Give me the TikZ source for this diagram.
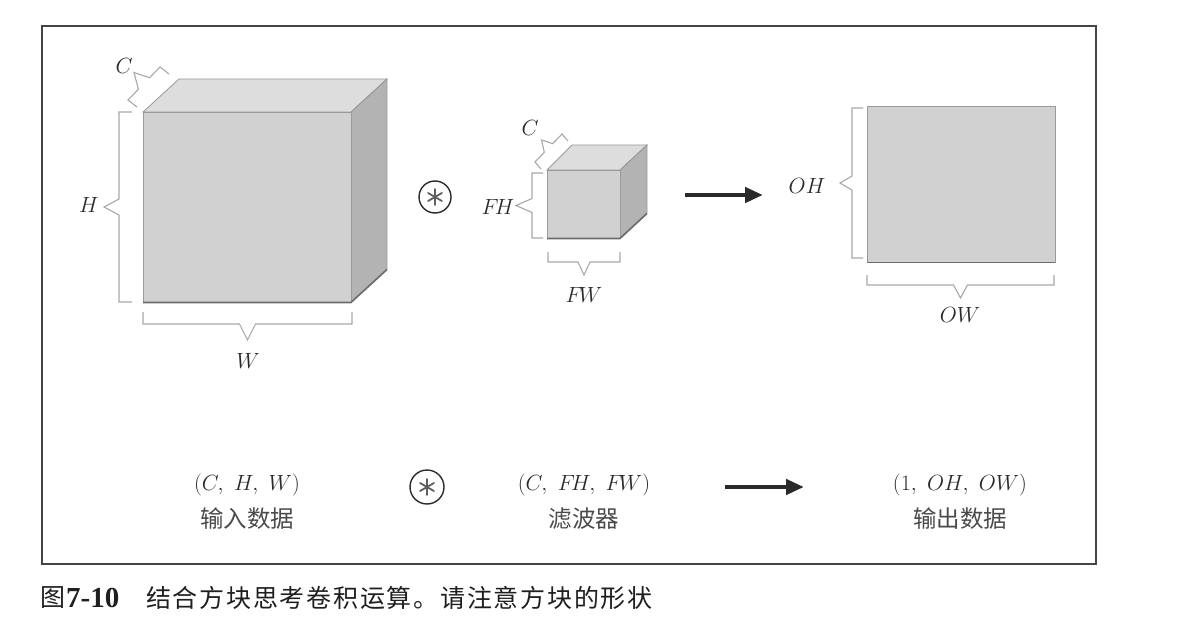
\RequirePackage{fix-cm}
\documentclass[tikz,border=0pt]{standalone}
\usepackage{fontspec}
\newfontfamily\cjk{Noto Sans CJK SC}
\newfontfamily\cjkcap[LetterSpace=7]{Noto Sans CJK SC}
\newfontfamily\capser{Liberation Serif}
\usetikzlibrary{calc,arrows.meta}
\definecolor{frontc}{HTML}{D1D1D1}
\definecolor{topc}{HTML}{DDDDDD}
\definecolor{sidec}{HTML}{B3B3B3}
\definecolor{edgec}{HTML}{9A9A9A}
\definecolor{brkc}{HTML}{A8A8A8}
\definecolor{txtc}{HTML}{2A2A2A}
\definecolor{framec}{HTML}{444444}
\newcommand\brk[5]{%
  \coordinate (bA) at #1; \coordinate (bB) at #2;
  \coordinate (bM) at ($(bA)!0.5!(bB)$);
  \draw[brkline] ($(bA)+#3$) -- (bA) -- ($(bM)!#5pt!(bA)$) -- ($(bM)+#4$) -- ($(bM)!#5pt!(bB)$) -- (bB) -- ($(bB)+#3$);
}
\begin{document}
\begin{tikzpicture}[x=1pt,y=-1pt,
  brkline/.style={draw=brkc,line width=1.1pt,line join=miter},
  face/.style={draw=edgec,line width=0.8pt},
  lbl/.style={text=txtc,inner sep=0pt,font=\fontsize{22}{26}\selectfont},
  cjklbl/.style={text=txtc!85,inner sep=0pt,font=\cjk\fontsize{23.5}{26}\selectfont},
  oplus/.style={circle,draw=txtc,line width=1.4pt,minimum size=32pt,inner sep=0pt},
  bigarrow/.style={draw=txtc,line width=4.5pt,-{Triangle[length=18pt,width=15pt]}},
  captxt/.style={anchor=west,inner sep=0pt,text=black!88}]
\useasboundingbox (0,0) rectangle (1200,623);
\draw[framec,line width=1.2pt] (42,26) rectangle (1096,564);

% big cube
\fill[topc] (143,112) -- (179,79) -- (387,79) -- (351,112) -- cycle;
\fill[sidec] (351,112) -- (387,79) -- (387,269) -- (351,302) -- cycle;
\fill[frontc] (143,112) rectangle (351,302);
\draw[face] (143,112) -- (179,79) -- (387,79) -- (351,112) -- cycle;
\draw[face] (351,112) -- (387,79) -- (387,269) -- (351,302);
\draw[face] (143,112) rectangle (351,302);
\draw[edgec!70!black,line width=1.6pt] (143,302.5) -- (351,302.5) -- (387,269.5);
\brk{(119,112)}{(119,302)}{(13,0)}{(-15,0)}{8}
\brk{(143,324)}{(352,324)}{(0,-12)}{(0,16)}{8}
\brk{(128,100)}{(160,67)}{(9,7)}{(-10,-11)}{8}
\node[lbl] (lH) at (89,205) {$H$};
\node[lbl] (lW) at (248,361) {$W$};
\node[lbl] (lC) at (124,66) {$C$};

% operator
\node[oplus] (op1) at (435,197) {};
\foreach \a in {90,30,150}
  \draw[txtc!75,line width=1.8pt,line cap=round] ($(op1)+(\a:8)$) -- ($(op1)+(\a+180:8)$);

% small cube
\fill[topc] (547,170) -- (572,145) -- (647,145) -- (620,170) -- cycle;
\fill[sidec] (620,170) -- (647,145) -- (647,213) -- (620,238) -- cycle;
\fill[frontc] (547,170) rectangle (620,238);
\draw[face] (547,170) -- (572,145) -- (647,145) -- (620,170) -- cycle;
\draw[face] (620,170) -- (647,145) -- (647,213) -- (620,238);
\draw[face] (547,170) rectangle (620,238);
\draw[edgec!70!black,line width=1.6pt] (547,238.5) -- (620,238.5) -- (647,213.5);
\brk{(532,173)}{(532,238)}{(11,0)}{(-16,0)}{7}
\brk{(548,262)}{(620,262)}{(0,-10)}{(0,13)}{6}
\brk{(535,162)}{(562,134)}{(6,7)}{(-7,-8)}{6}
\node[lbl] (lFH) at (498,207) {$F\!H$};
\node[lbl] (lFW) at (584,295) {$F\!W$};
\node[lbl] (lC2) at (530,128) {$C$};

% arrow
\coordinate (a1s) at (685,195);
\coordinate (a1e) at (763,195);
\draw[bigarrow] (a1s) -- (a1e);

% output
\fill[frontc] (867,106) rectangle (1055,262);
\draw[face] (867,106) rectangle (1055,262);
\draw[edgec!70!black,line width=1.6pt] (867,262.5) -- (1055,262.5);
\brk{(852,108)}{(852,258)}{(11,0)}{(-12,0)}{7}
\brk{(867,285)}{(1054,285)}{(0,-10)}{(0,13)}{7}
\node[lbl] (lOH) at (807,186) {$OH$};
\node[lbl] (lOW) at (960,315) {$OW$};

% bottom row
\node[lbl] (t1) at (247,485) {$(C,\ H,\ W)$};
\node[cjklbl] (c1) at (247,519) {输入数据};
\node[oplus,minimum size=34pt] (op2) at (427,487) {};
\foreach \a in {90,30,150}
  \draw[txtc!75,line width=1.8pt,line cap=round] ($(op2)+(\a:8)$) -- ($(op2)+(\a+180:8)$);
\node[lbl] (t2) at (584,485) {$(C,\ F\!H,\ F\!W)$};
\node[cjklbl] (c2) at (584,519) {滤波器};
\coordinate (a2s) at (725,487);
\coordinate (a2e) at (804,487);
\draw[bigarrow] (a2s) -- (a2e);
\node[lbl] (t3) at (960,485) {$(1,\ OH,\ OW)$};
\node[cjklbl] (c3) at (960,519) {输出数据};

% caption
\node[captxt,font=\cjk\fontsize{25}{28}\selectfont] (capfig) at (40,598) {图};
\node[captxt,font=\capser\bfseries\fontsize{29}{30}\selectfont] (capnum) at (66,598) {7-10};
\node[captxt,font=\cjkcap\fontsize{25}{28}\selectfont] (captext) at (146,598) {结合方块思考卷积运算。请注意方块的形状};
\end{tikzpicture}
\end{document}
